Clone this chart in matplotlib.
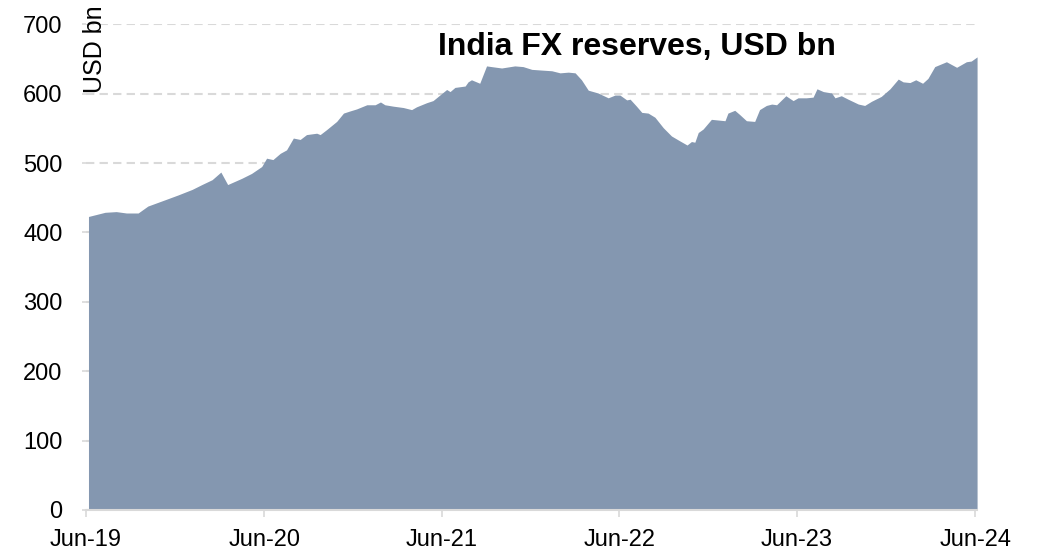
import matplotlib
matplotlib.use("Agg")
import matplotlib.pyplot as plt
import matplotlib.dates as mdates
import pandas as pd

# India FX reserves, USD bn (approximate weekly readings)
dates = [
    "2019-06-06", "2019-07-10", "2019-08-02", "2019-08-23", "2019-09-16",
    "2019-10-06", "2019-11-10",
    "2019-12-07", "2020-01-05", "2020-01-25", "2020-02-15", "2020-03-04",
    "2020-03-18", "2020-04-16", "2020-05-06", "2020-05-27", "2020-06-06",
    "2020-06-19", "2020-07-04", "2020-07-17", "2020-07-31", "2020-08-14",
    "2020-08-27", "2020-09-17", "2020-09-24", "2020-10-07", "2020-10-28",
    "2020-11-11", "2020-11-24", "2020-12-08", "2020-12-29", "2021-01-15",
    "2021-01-26", "2021-02-04", "2021-02-21", "2021-03-14", "2021-03-31",
    "2021-04-10", "2021-05-01", "2021-05-14", "2021-05-28", "2021-06-11",
    "2021-06-18", "2021-06-28", "2021-07-19", "2021-07-25", "2021-08-01",
    "2021-08-18", "2021-09-01", "2021-09-11", "2021-10-02", "2021-10-29",
    "2021-11-15", "2021-12-03", "2021-12-23", "2022-01-13", "2022-01-30",
    "2022-02-16", "2022-03-02", "2022-03-15", "2022-03-29", "2022-04-18",
    "2022-05-09", "2022-05-23", "2022-06-02", "2022-06-16", "2022-06-23",
    "2022-07-06", "2022-07-17", "2022-07-30", "2022-08-13", "2022-08-30",
    "2022-09-16", "2022-10-03", "2022-10-18", "2022-10-27", "2022-11-03",
    "2022-11-10", "2022-11-20", "2022-12-07", "2023-01-04", "2023-01-10",
    "2023-01-24", "2023-02-03", "2023-02-17", "2023-03-06", "2023-03-16",
    "2023-03-30", "2023-04-10", "2023-04-20", "2023-05-09", "2023-05-24",
    "2023-06-03", "2023-06-20", "2023-07-04", "2023-07-12", "2023-07-25",
    "2023-08-11", "2023-08-18", "2023-08-31", "2023-09-14", "2023-10-05",
    "2023-10-18", "2023-11-01", "2023-11-21", "2023-12-09", "2023-12-26",
    "2024-01-05", "2024-01-19", "2024-01-31", "2024-02-14", "2024-02-25",
    "2024-03-10", "2024-04-03", "2024-04-24", "2024-05-14", "2024-05-24",
    "2024-06-05",
]
reserves = [
    423, 429, 430, 428, 428,
    438, 447,
    454, 462, 469, 476, 487,
    469, 478, 485, 495, 507,
    505, 514, 519, 536, 534,
    541, 543, 541, 548, 560,
    572, 575, 578, 584, 584,
    588, 584, 582, 580, 577,
    581, 587, 590, 598, 606,
    603, 609, 611, 617, 620,
    615, 640, 639, 637, 640,
    639, 635, 634, 633, 630,
    631, 630, 620, 605, 601,
    594, 598, 598, 591, 592,
    582, 573, 572, 566, 551,
    539, 532, 526, 531, 530,
    544, 549, 563, 561, 572,
    576, 570, 561, 560, 577,
    583, 585, 584, 597, 590,
    594, 594, 595, 607, 603,
    601, 594, 597, 592, 585,
    583, 589, 596, 607, 621,
    617, 616, 620, 615, 622,
    639, 646, 638, 646, 647,
    653,
]

tick_dates = ["2019-06-01", "2020-06-01", "2021-06-01",
              "2022-06-01", "2023-06-01", "2024-06-01"]
y_ticks = [0, 100, 200, 300, 400, 500, 600, 700]

x = pd.to_datetime(dates)
xt = pd.to_datetime(tick_dates)

plt.rcParams["font.family"] = ["Liberation Sans", "DejaVu Sans"]

fig = plt.figure(figsize=(10.43, 5.53), dpi=100)
ax = fig.add_axes([0.0825, 0.0778, 0.8543, 0.8783])

grid_col = "#d9d9d9"
ax.fill_between(x, 0, reserves, color="#8497b0", lw=0, zorder=2)

ax.set_ylim(0, 700)
ax.set_xlim(xt[0], x[-1])
ax.set_yticks(y_ticks)
ax.set_xticks(xt)
ax.xaxis.set_major_formatter(mdates.DateFormatter("%b-%y"))

ax.yaxis.grid(True, color=grid_col, lw=1.5, ls=(0, (4, 2.5)), zorder=1)
ax.set_axisbelow(True)

for side in ["top", "right", "left"]:
    ax.spines[side].set_visible(False)
ax.spines["bottom"].set_color(grid_col)
ax.spines["bottom"].set_linewidth(1.5)
ax.spines["bottom"].set_zorder(3)

ax.tick_params(axis="y", length=3, width=1.2, color=grid_col, pad=14,
               labelsize=17)
ax.tick_params(axis="x", length=5, width=1.2, color=grid_col, pad=9,
               labelsize=17)

ax.set_ylabel("USD bn", fontsize=18)
ax.yaxis.set_label_coords(0.024, 0.949)

fig.text(0.6107, 0.9005, "India FX reserves, USD bn", fontsize=23,
         fontweight="bold", ha="center", va="baseline")

fig.savefig("out.png", dpi=100)
